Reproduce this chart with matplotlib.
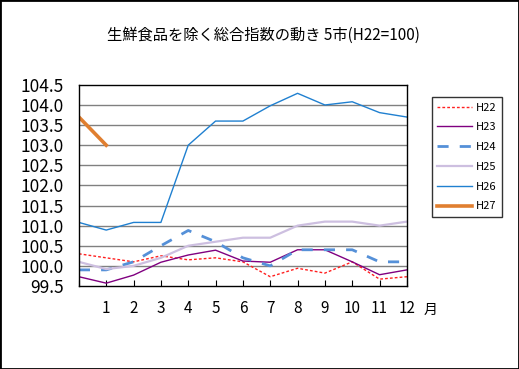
import numpy as np
import matplotlib.pyplot as plt
from matplotlib.patches import Rectangle

plt.rcParams['font.family'] = ['Noto Sans CJK JP', 'DejaVu Sans']

# x = 0 is the previous December, then months 1..12
months = np.arange(0, 13)
month_labels = ['', '1', '2', '3', '4', '5', '6', '7', '8', '9', '10', '11', '12']

h22 = [100.3, 100.2, 100.1, 100.25, 100.15, 100.2, 100.1, 99.73, 99.94, 99.82, 100.1, 99.67, 99.73]
h23 = [99.73, 99.57, 99.77, 100.09, 100.27, 100.39, 100.12, 100.09, 100.4, 100.4, 100.1, 99.78, 99.9]
h24 = [99.9, 99.9, 100.1, 100.5, 100.88, 100.6, 100.2, 100.0, 100.4, 100.4, 100.4, 100.1, 100.1]
h25 = [100.1, 99.92, 100.0, 100.2, 100.5, 100.6, 100.7, 100.7, 101.0, 101.1, 101.1, 101.0, 101.1]
h26 = [101.08, 100.89, 101.08, 101.08, 103.0, 103.6, 103.6, 103.98, 104.29, 104.0, 104.08, 103.81, 103.7]
h27 = [103.7, 103.0]

fig = plt.figure(figsize=(5.19, 3.69), dpi=100)
ax = fig.add_axes([0.152, 0.225, 0.632, 0.545])

ax.plot(months, h22, color='#ff2020', lw=1, dashes=(2, 1.5), label='H22')
ax.plot(months, h23, color='#800080', lw=1, label='H23')
ax.plot(months, h24, color='#5590d8', lw=2, dashes=(4, 4), label='H24')
ax.plot(months, h25, color='#cdbfe0', lw=1.6, label='H25')
ax.plot(months, h26, color='#2080d0', lw=1, label='H26')
ax.plot(months[:len(h27)], h27, color='#e07f30', lw=2.6, label='H27')

ax.set_xlim(0, 12)
ax.set_ylim(99.5, 104.5)
ax.set_yticks(np.arange(99.5, 104.51, 0.5))
ax.set_yticklabels([f'{v:.1f}' for v in np.arange(99.5, 104.51, 0.5)], fontsize=12.5)
ax.set_xticks(months)
ax.set_xticklabels(month_labels, fontsize=11)
ax.tick_params(axis='y', length=0, pad=11)
ax.tick_params(axis='x', direction='in', length=4.5, pad=10)
for v in np.arange(100.0, 104.01, 0.5):
    ax.axhline(v, color='#808080', lw=1, zorder=0)
for s in ax.spines.values():
    s.set_color('black')
    s.set_linewidth(1)

fig.text(0.83, 0.16, '月', fontsize=10, ha='center', va='center')
fig.text(0.507, 0.905, '生鮮食品を除く総合指数の動き 5市(H22=100)',
         fontsize=11, ha='center', va='center')

leg = ax.legend(loc='upper left', bbox_to_anchor=(0.832, 0.737), bbox_transform=fig.transFigure,
                fontsize=8, frameon=True, fancybox=False, edgecolor='black',
                handlelength=3.1, handletextpad=0.35, labelspacing=0.88,
                borderpad=0.5, borderaxespad=0)
leg.get_frame().set_linewidth(1)

fig.add_artist(Rectangle((0, 0), 1, 1, transform=fig.transFigure, fill=False,
                         edgecolor='black', lw=2))

fig.savefig('out.png', dpi=100)
